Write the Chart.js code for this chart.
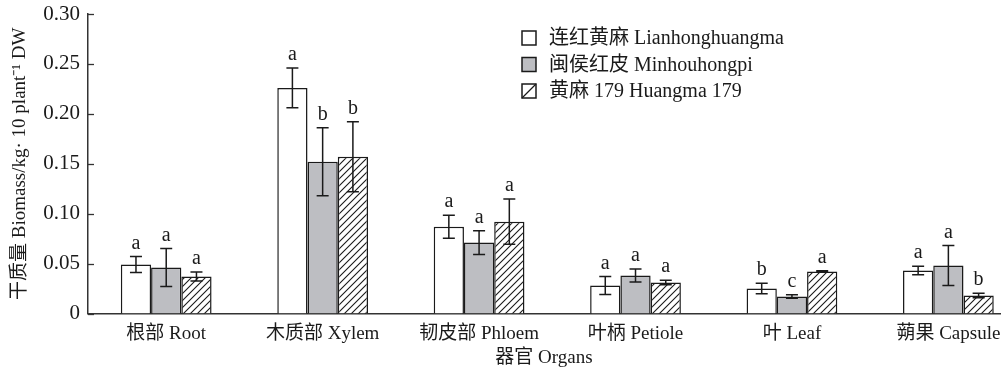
<!DOCTYPE html>
<html>
<head>
<meta charset="utf-8">
<script src="https://cdn.jsdelivr.net/npm/chart.js@4.4.1/dist/chart.umd.min.js"></script>
<style>
  html, body { margin: 0; padding: 0; background: #fff; overflow: hidden; }
  #wrap { width: 1007px; height: 374px; }
</style>
</head>
<body>
<div id="wrap"><canvas id="biomassChart"></canvas></div>
<script>
const organs = ['根部 Root', '木质部 Xylem', '韧皮部 Phloem', '叶柄 Petiole', '叶 Leaf', '蒴果 Capsule'];
const varieties = ['连红黄麻 Lianhonghuangma', '闽侯红皮 Minhouhongpi', '黄麻 179 Huangma 179'];

// mean dry biomass per organ
const lianhong = [0.049, 0.226, 0.087, 0.028, 0.025, 0.043];
const minhou = [0.046, 0.152, 0.071, 0.038, 0.017, 0.048];
const huangma = [0.037, 0.157, 0.092, 0.031, 0.042, 0.018];

// standard deviation
const lianhongErr = [0.008, 0.020, 0.0115, 0.009, 0.0053, 0.0043];
const minhouErr = [0.019, 0.034, 0.012, 0.0065, 0.0018, 0.020];
const huangmaErr = [0.0045, 0.035, 0.0227, 0.0022, 0.0008, 0.0022];

// significance letters
const lianhongSig = ['a', 'a', 'a', 'a', 'b', 'a'];
const minhouSig = ['a', 'b', 'a', 'a', 'c', 'a'];
const huangmaSig = ['a', 'b', 'a', 'a', 'a', 'b'];

const yTicks = [0, 0.05, 0.10, 0.15, 0.20, 0.25, 0.30];

const serif = "'Liberation Serif', 'Noto Sans CJK SC', serif";
const ink = '#1a1a1a';

function makeHatch() {
  const c = document.createElement('canvas');
  c.width = 7; c.height = 7;
  const g = c.getContext('2d');
  g.fillStyle = '#fff';
  g.fillRect(0, 0, 7, 7);
  g.strokeStyle = ink;
  g.lineWidth = 1.1;
  g.beginPath();
  g.moveTo(-1, 8); g.lineTo(8, -1);
  g.moveTo(-1, 1); g.lineTo(1, -1);
  g.moveTo(6, 8); g.lineTo(8, 6);
  g.stroke();
  return g.createPattern(c, 'repeat');
}

const toPoints = arr => arr.map((v, i) => ({ x: i, y: v }));

const extras = {
  id: 'extras',
  afterDatasetsDraw(chart) {
    const { ctx, chartArea, scales } = chart;
    const y = scales.y;
    ctx.save();

    // inward ticks on the y axis
    ctx.strokeStyle = '#333';
    ctx.lineWidth = 1.3;
    yTicks.forEach(t => {
      const py = Math.round(y.getPixelForValue(t)) + 0.5;
      ctx.beginPath();
      ctx.moveTo(chartArea.left, py);
      ctx.lineTo(chartArea.left + 6, py);
      ctx.stroke();
    });

    // error bars and letters
    chart.data.datasets.forEach((ds, di) => {
      const meta = chart.getDatasetMeta(di);
      meta.data.forEach((bar, i) => {
        const v = ds.data[i].y;
        const e = ds.errors[i];
        const top = y.getPixelForValue(v + e);
        const bot = y.getPixelForValue(v - e);
        const x = bar.x;
        ctx.strokeStyle = ink;
        ctx.lineWidth = 1.5;
        ctx.beginPath();
        ctx.moveTo(x, top); ctx.lineTo(x, bot);
        ctx.moveTo(x - 6, top); ctx.lineTo(x + 6, top);
        ctx.moveTo(x - 6, bot); ctx.lineTo(x + 6, bot);
        ctx.stroke();

        ctx.fillStyle = ink;
        ctx.font = '20px ' + serif;
        ctx.textAlign = 'center';
        ctx.textBaseline = 'alphabetic';
        ctx.fillText(ds.letters[i], x, top - 8);
      });
    });

    // legend
    const lx = 522, ly = 31, step = 26.5;
    chart.data.datasets.forEach((ds, di) => {
      const by = ly + di * step;
      ctx.fillStyle = '#fff';
      ctx.fillRect(lx, by, 14, 14);
      if (ds.hatched) {
        ctx.strokeStyle = ink;
        ctx.lineWidth = 1.2;
        ctx.beginPath();
        ctx.moveTo(lx, by + 14); ctx.lineTo(lx + 14, by);
        ctx.stroke();
      } else {
        ctx.fillStyle = ds.backgroundColor;
        ctx.fillRect(lx, by, 14, 14);
      }
      ctx.strokeStyle = ink;
      ctx.lineWidth = 1.5;
      ctx.strokeRect(lx, by, 14, 14);

      ctx.fillStyle = ink;
      ctx.font = '20px ' + serif;
      ctx.textAlign = 'left';
      ctx.textBaseline = 'middle';
      ctx.fillText(ds.label, lx + 27, by + 8);
    });

    ctx.restore();
  }
};

new Chart(document.getElementById('biomassChart'), {
  type: 'bar',
  data: {
    datasets: [
      {
        label: varieties[0],
        data: toPoints(lianhong),
        errors: lianhongErr,
        letters: lianhongSig,
        backgroundColor: '#ffffff',
        borderColor: ink,
        borderWidth: 1.5
      },
      {
        label: varieties[1],
        data: toPoints(minhou),
        errors: minhouErr,
        letters: minhouSig,
        backgroundColor: '#bdbec2',
        borderColor: ink,
        borderWidth: 1.5
      },
      {
        label: varieties[2],
        data: toPoints(huangma),
        errors: huangmaErr,
        letters: huangmaSig,
        hatched: true,
        backgroundColor: makeHatch(),
        borderColor: ink,
        borderWidth: 1.5
      }
    ]
  },
  options: {
    responsive: true,
    maintainAspectRatio: false,
    animation: false,
    categoryPercentage: 0.58,
    barPercentage: 1.0,
    layout: { padding: { top: 14, right: 7, left: 0, bottom: 0 } },
    plugins: {
      legend: { display: false },
      tooltip: { enabled: false }
    },
    scales: {
      x: {
        type: 'linear',
        min: -0.5,
        max: 5.33,
        offset: false,
        grid: { display: false, drawTicks: false },
        border: { display: true, color: '#333', width: 1.5 },
        afterBuildTicks: scale => { scale.ticks = organs.map((_, i) => ({ value: i })); },
        afterFit: scale => {
          scale.height = 60.5;
          scale.paddingLeft = 0;
          scale.paddingRight = 0;
        },
        ticks: {
          autoSkip: false,
          maxRotation: 0,
          padding: 9,
          color: ink,
          font: { family: serif, size: 19 },
          callback: v => organs[v]
        },
        title: {
          display: true,
          text: '器官 Organs',
          color: ink,
          font: { family: serif, size: 19 },
          padding: { top: 0, bottom: 5 }
        }
      },
      y: {
        min: 0,
        max: 0.30,
        grid: { display: false, drawTicks: false },
        border: { display: true, color: '#333', width: 1.5 },
        afterBuildTicks: scale => { scale.ticks = yTicks.map(v => ({ value: v })); },
        afterFit: scale => {
          scale.width = 88;
          scale.paddingTop = 0;
          scale.paddingBottom = 0;
        },
        ticks: {
          padding: 8,
          color: ink,
          font: { family: serif, size: 21 },
          callback: v => (v === 0 ? '0' : v.toFixed(2))
        },
        title: {
          display: true,
          text: '干质量 Biomass/kg· 10 plant⁻¹ DW',
          color: ink,
          font: { family: serif, size: 19 },
          padding: { top: 9, bottom: 0 }
        }
      }
    }
  },
  plugins: [extras]
});
</script>
</body>
</html>
